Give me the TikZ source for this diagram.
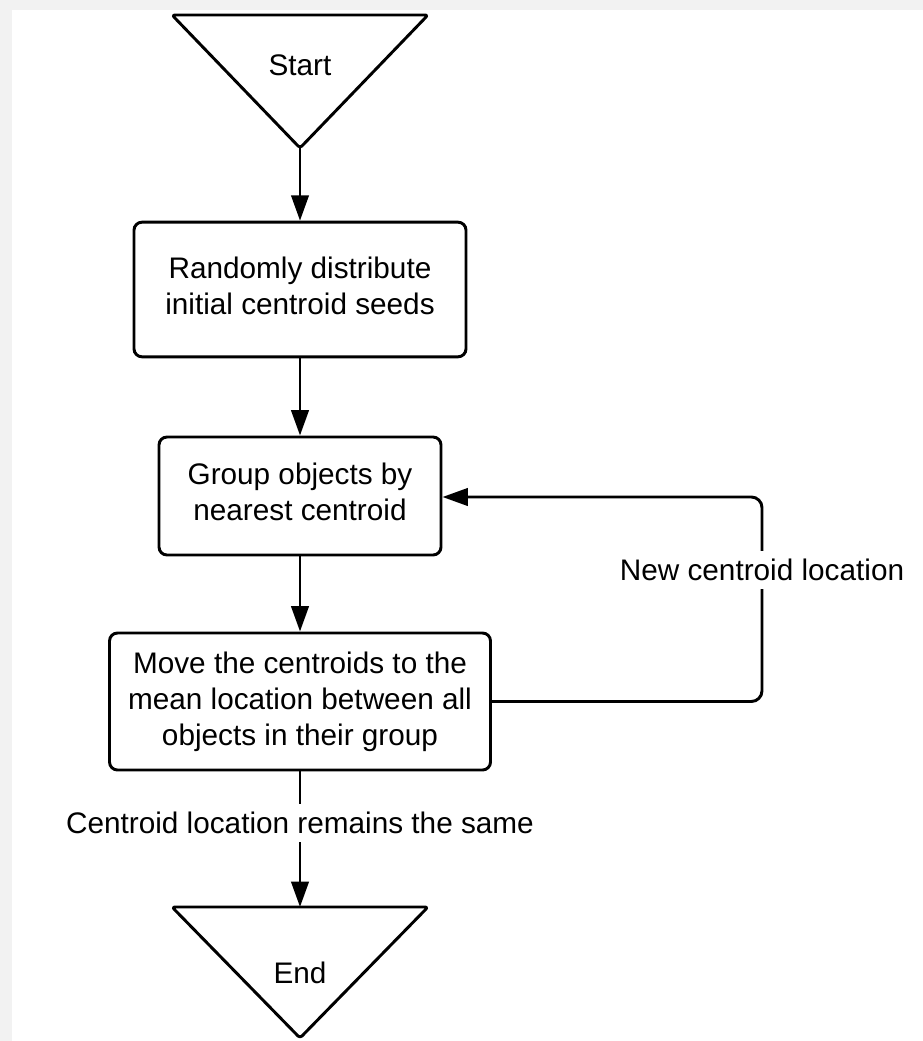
\documentclass[tikz,border=0pt]{standalone}
\usepackage{fontspec}
\setmainfont{Liberation Sans}
\usetikzlibrary{positioning,arrows.meta}

\begin{document}
\begin{tikzpicture}[x=0.75pt,y=-0.75pt,
  every node/.style={font=\fontsize{22.3}{27}\selectfont},
  box/.style={draw,line width=2.2pt,rounded corners=6pt,align=center,inner sep=0pt},
  term/.style={draw,line width=2.2pt,rounded corners=2pt,line join=round},
  flow/.style={line width=2.2pt,-{Triangle[length=19pt,width=13pt]}},
  lbl/.style={fill=white,inner sep=6pt}]
\useasboundingbox (0,0) rectangle (923,1041);
\fill[black!5] (0,0) rectangle (923,1041);
\fill[white] (12,10) rectangle (923,1041);
\draw[term] (172,15) -- (428,15) -- (300,148) -- cycle;
\node (start) at (300,65) {Start};
\coordinate (startapex) at (300,148);
\node[box,minimum width=249pt,minimum height=101pt,text depth=6pt] (seeds) at (300,289.5) {Randomly distribute\\initial centroid seeds};
\node[box,minimum width=211.5pt,minimum height=88.5pt,text depth=6pt] (group) at (300,496) {Group objects by\\nearest centroid};
\node[box,minimum width=285.75pt,minimum height=102.75pt] (move) at (300,701.5) {Move the centroids to the\\mean location between all\\objects in their group};
\draw[term] (172,907) -- (428,907) -- (300,1038) -- cycle;
\node (end) at (300,973) {End};
\coordinate (endtop) at (300,907);
\coordinate (loop) at (762,497);
\draw[flow] (startapex) -- (seeds);
\draw[flow] (seeds) -- (group);
\draw[flow] (group) -- (move);
\draw[flow,rounded corners=8pt] (move.east) -| (loop) -- (group.east |- loop);
\draw[flow] (move) -- (endtop);
\node[lbl] (newloc) at (762,570) {New centroid location};
\node[lbl] (same) at (300,823) {Centroid location remains the same};
\end{tikzpicture}
\end{document}
